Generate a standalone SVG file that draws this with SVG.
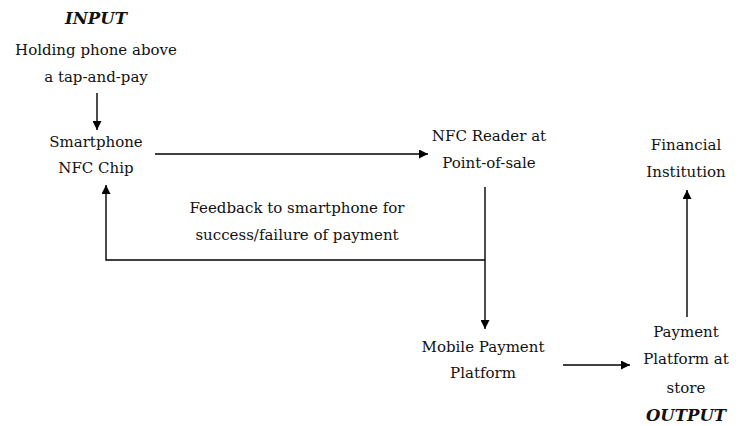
<svg xmlns="http://www.w3.org/2000/svg" width="740" height="426" viewBox="0 0 740 426">
<style>
text{font-family:"DejaVu Serif","Liberation Serif",serif;font-size:15px;fill:#111;text-anchor:middle}
.io{font-weight:bold;font-style:italic;font-size:16.5px}
.c{stroke:#000;stroke-width:1.4;fill:none}
</style>
<defs>
<marker id="ah" viewBox="0 0 10 10" refX="10" refY="5" markerWidth="9" markerHeight="9" markerUnits="userSpaceOnUse" orient="auto">
<path d="M0,0 L10,5 L0,10 Z" fill="#000"/>
</marker>
</defs>
<rect width="740" height="426" fill="#fff"/>
<g id="input">
<text class="io" x="96" y="24">INPUT</text>
<text x="96" y="55">Holding phone above</text>
<text x="96" y="82">a tap-and-pay</text>
</g>
<g id="smartphone">
<text x="96" y="147">Smartphone</text>
<text x="96" y="173">NFC Chip</text>
</g>
<g id="nfcreader">
<text x="489" y="141">NFC Reader at</text>
<text x="489" y="168">Point-of-sale</text>
</g>
<g id="financial">
<text x="686" y="150">Financial</text>
<text x="686" y="177">Institution</text>
</g>
<g id="feedback">
<text x="297" y="213">Feedback to smartphone for</text>
<text x="297" y="240">success/failure of payment</text>
</g>
<g id="mobilepayment">
<text x="483" y="352">Mobile Payment</text>
<text x="483" y="378">Platform</text>
</g>
<g id="storeplatform">
<text x="686" y="337">Payment</text>
<text x="686" y="364">Platform at</text>
<text x="686" y="393">store</text>
<text class="io" x="686" y="421">OUTPUT</text>
</g>
<g id="connectors">
<line class="c" x1="97" y1="93" x2="97" y2="130" marker-end="url(#ah)"/>
<line class="c" x1="155" y1="154" x2="428" y2="154" marker-end="url(#ah)"/>
<line class="c" x1="485" y1="187" x2="485" y2="329" marker-end="url(#ah)"/>
<polyline class="c" points="485,260 106,260 106,185" marker-end="url(#ah)"/>
<line class="c" x1="563" y1="365" x2="630" y2="365" marker-end="url(#ah)"/>
<line class="c" x1="687" y1="317" x2="687" y2="190" marker-end="url(#ah)"/>
</g>
</svg>
